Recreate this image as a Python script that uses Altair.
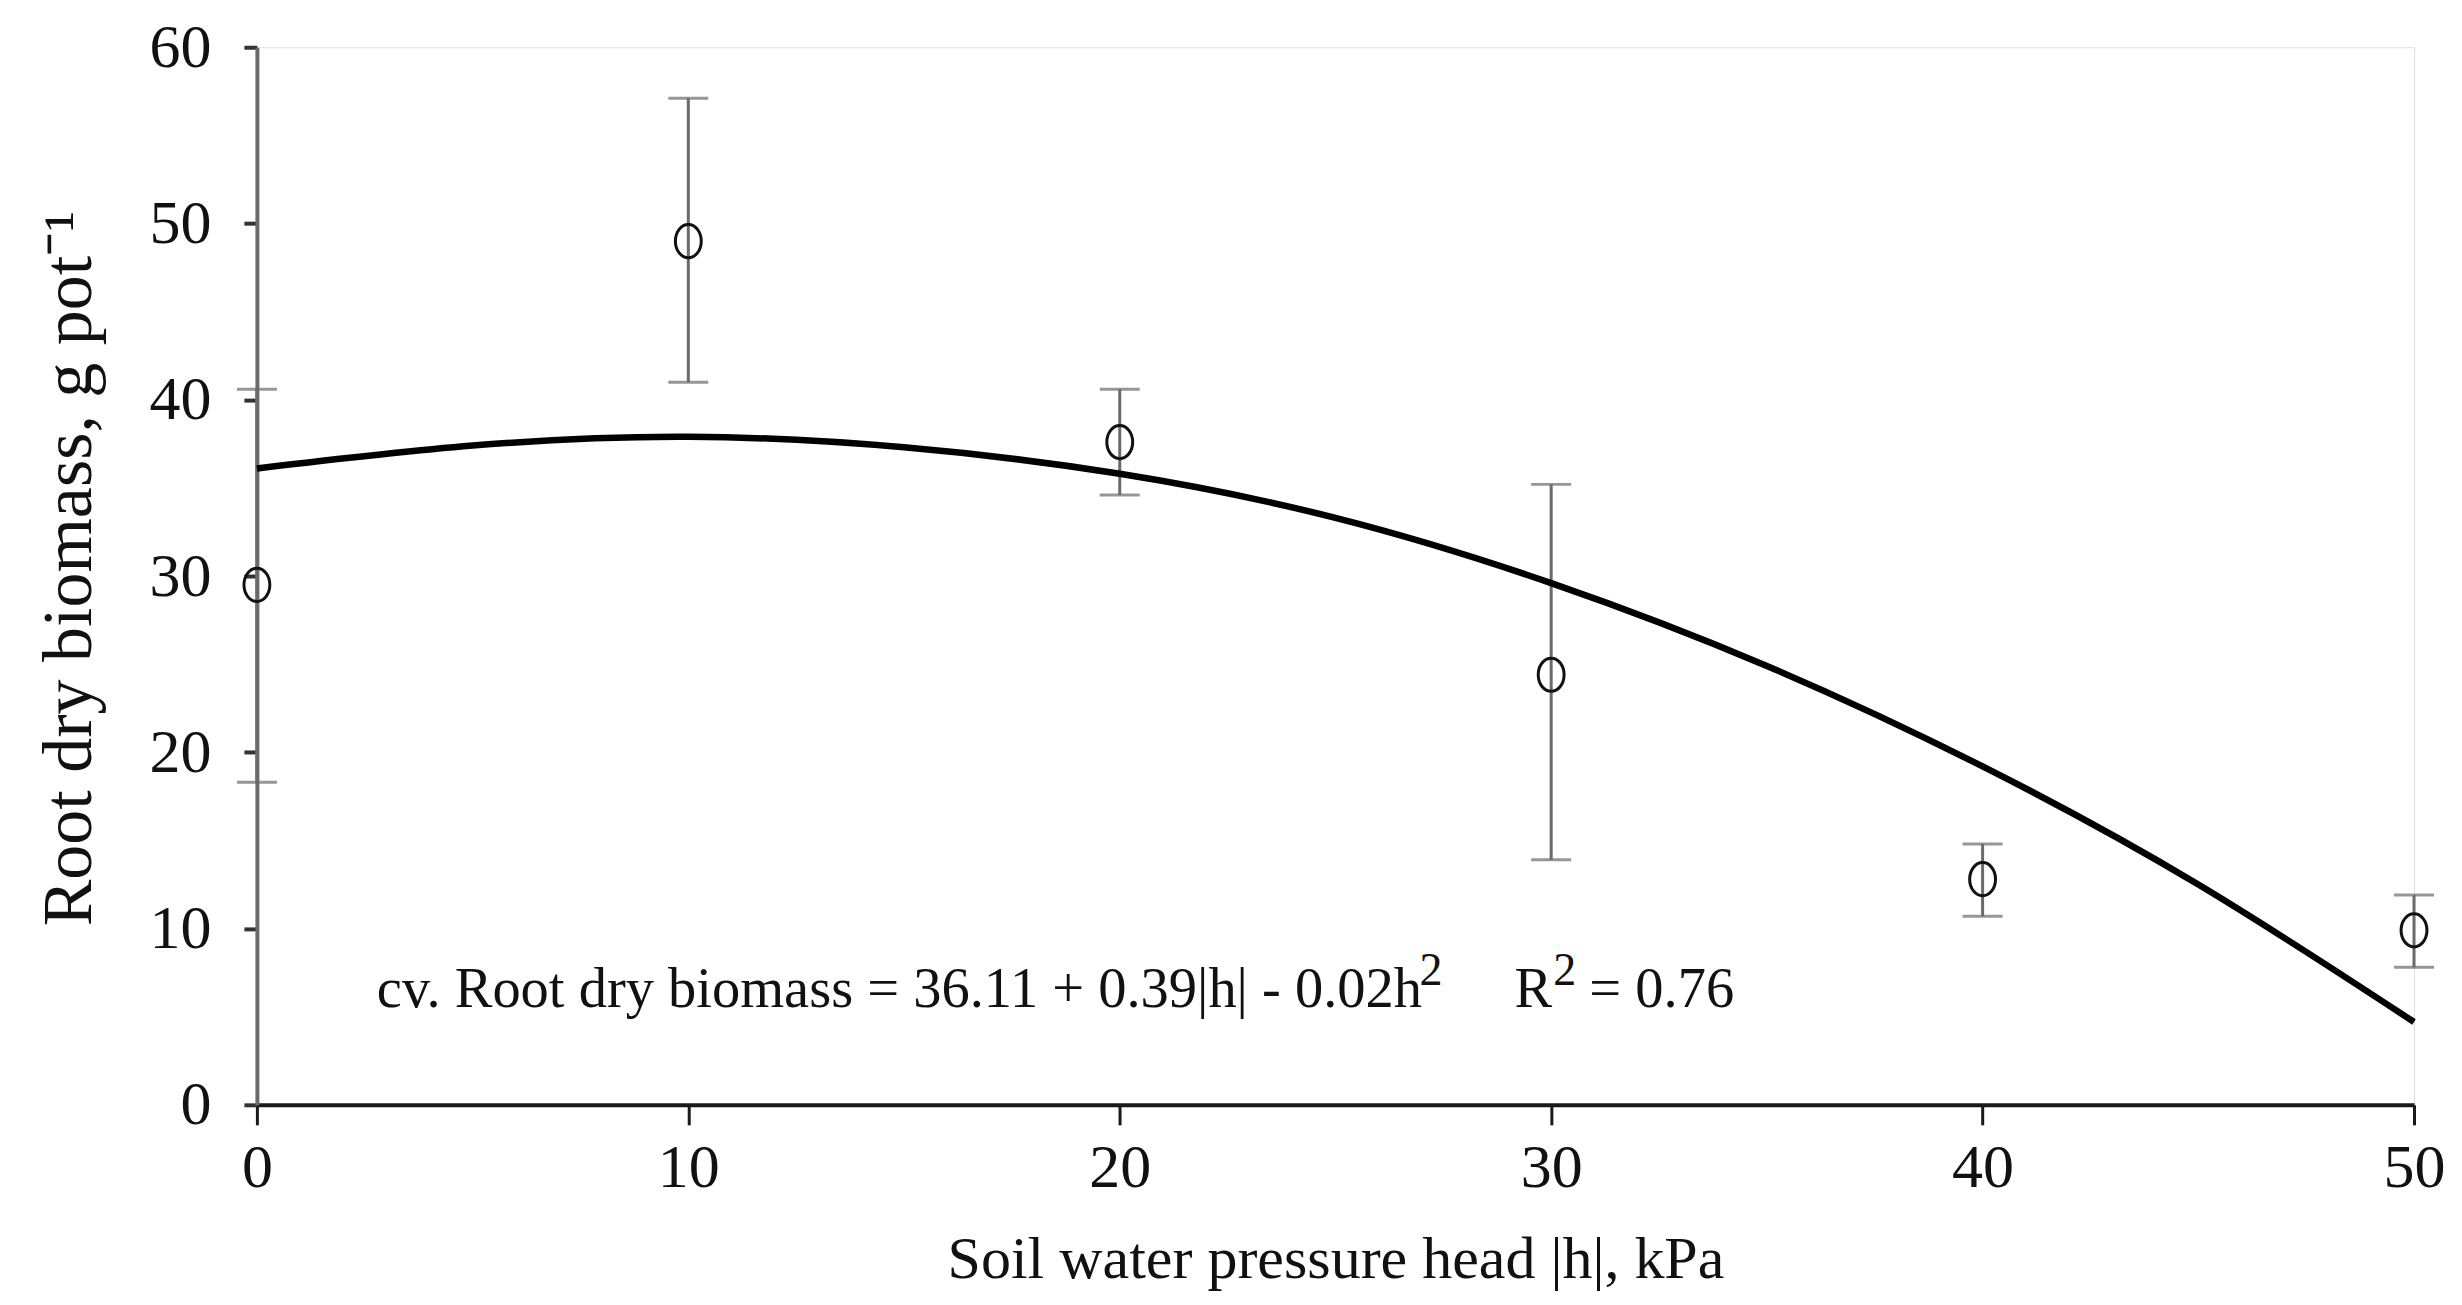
import altair as alt
import pandas as pd

# ---- data ----
h_vals = [0, 10, 20, 30, 40, 50]
biomass = [29.5, 49.0, 37.6, 24.4, 12.8, 9.9]
err_hi = [40.6, 57.1, 40.6, 35.2, 14.8, 11.9]
err_lo = [18.3, 41.0, 34.6, 13.9, 10.7, 7.8]

curve_h = [0, 5, 10, 15, 20, 25, 30, 35, 40, 45, 50]
curve_y = [36.1, 37.4, 37.9, 37.3, 35.8, 33.3, 29.6, 24.9, 19.2, 12.5, 4.7]

eq_main = "cv. Root dry biomass = 36.11 + 0.39|h| - 0.02h"
sup_two = "2"
r_label = "R"
r2_value = "= 0.76"

x_ticks = [0, 10, 20, 30, 40, 50]
y_ticks = [0, 10, 20, 30, 40, 50, 60]

pts = pd.DataFrame({"h": h_vals, "b": biomass, "hi": err_hi, "lo": err_lo})
curve = pd.DataFrame({"h": curve_h, "y": curve_y})

FONT = "Liberation Serif"
GRAY = "#6a6a6a"
W, H = 2158, 1058

xs = alt.Scale(domain=[0, 50], nice=False, zero=False)
ys = alt.Scale(domain=[0, 60], nice=False, zero=False)

xax = alt.Axis(values=x_ticks, grid=False, domain=True, domainColor="#1a1a1a", domainWidth=4,
               tickColor="#1a1a1a", tickWidth=3, tickSize=20, labelFont=FONT, labelFontSize=62,
               labelColor="#111", labelPadding=13, labelFlush=False,
               title="Soil water pressure head |h|, kPa", titleFont=FONT, titleFontSize=60,
               titleFontWeight="normal", titleColor="#111", titleBaseline="alphabetic",
               titleX=W / 2, titleY=173, titleAlign="center")
yax = alt.Axis(values=y_ticks, grid=False, domain=True, domainColor=GRAY, domainWidth=4,
               tickColor="#333", tickWidth=4, tickSize=13, labelFont=FONT, labelFontSize=62,
               labelColor="#111", labelPadding=33, labelFlush=False,
               title="Root dry biomass, g pot⁻¹", titleFont=FONT, titleFontSize=70,
               titleFontWeight="normal", titleColor="#111", titleBaseline="alphabetic",
               titleX=-166, titleY=H / 2 - 8, titleAlign="center", titleAngle=-90)

base = alt.Chart(pts)

rules = base.mark_rule(color=GRAY, strokeWidth=3).encode(
    x=alt.X("h:Q", scale=xs, axis=xax),
    y=alt.Y("lo:Q", scale=ys, axis=yax),
    y2="hi:Q",
)
cap_hi = base.mark_tick(color=GRAY, orient="horizontal", size=40, thickness=3).encode(
    x=alt.X("h:Q", scale=xs), y=alt.Y("hi:Q", scale=ys))
cap_lo = base.mark_tick(color=GRAY, orient="horizontal", size=40, thickness=3).encode(
    x=alt.X("h:Q", scale=xs), y=alt.Y("lo:Q", scale=ys))

ellipse = "M -0.78,0 A 0.78,1 0 1,0 0.78,0 A 0.78,1 0 1,0 -0.78,0 Z"
points = base.mark_point(shape=ellipse, size=1100, filled=False, color="#111", strokeWidth=3,
                         opacity=1).encode(
    x=alt.X("h:Q", scale=xs), y=alt.Y("b:Q", scale=ys))

line = alt.Chart(curve).mark_line(color="#000", strokeWidth=6.5, interpolate="natural").encode(
    x=alt.X("h:Q", scale=xs), y=alt.Y("y:Q", scale=ys))


def txt(s, x, y, size):
    return alt.Chart(pd.DataFrame({"t": [s]})).mark_text(
        font=FONT, fontSize=size, color="#111", align="left", baseline="alphabetic").encode(
        x=alt.value(x), y=alt.value(y), text="t:N")


BASE_Y = 960
eq1 = txt(eq_main, 120, BASE_Y, 56.5)
sup1 = txt(sup_two, 1163, BASE_Y - 22, 46)
rr = txt(r_label, 1258, BASE_Y, 56.5)
sup2 = txt(sup_two, 1297, BASE_Y - 22, 46)
rv = txt(r2_value, 1333, BASE_Y, 56.5)

chart = alt.layer(rules, cap_hi, cap_lo, line, points, eq1, sup1, rr, sup2, rv).properties(
    width=W, height=H,
    autosize=alt.AutoSizeParams(type="none"),
    padding={"left": 249, "top": 39, "right": 40, "bottom": 190},
).configure_view(stroke=None).configure(background="white")

chart.save("out.html", embed_options={"renderer": "svg", "actions": False})
